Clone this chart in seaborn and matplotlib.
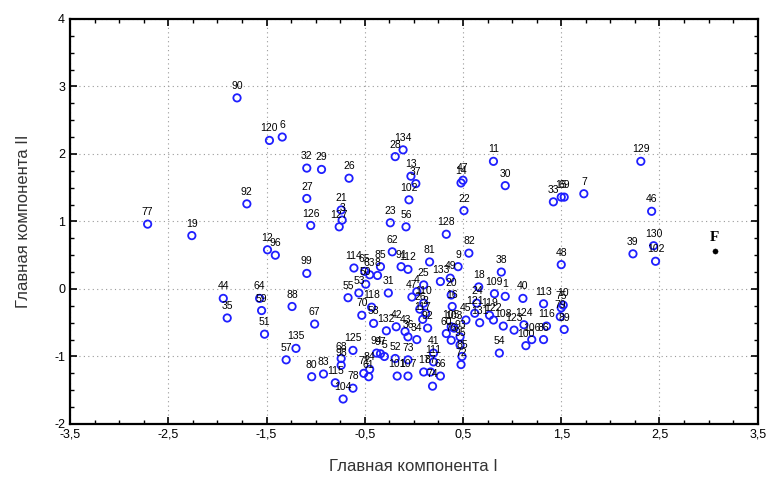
import matplotlib
matplotlib.use("Agg")
import matplotlib.pyplot as plt
from matplotlib.ticker import MultipleLocator, FixedLocator, FuncFormatter
import seaborn as sns
import pandas as pd

# Object numbers and their scores on the first two principal components
labels = [
    "90", "120", "6", "92", "77", "19", "12", "96", "44", "35",
    "64", "59", "51", "88", "57", "135", "32", "29", "26", "27",
    "126", "21", "3", "127", "28", "134", "13", "37", "102", "23",
    "56", "14", "47", "22", "128", "11", "30", "33", "15", "69",
    "7", "129", "46", "39", "130", "102", "48", "38", "18", "109",
    "1", "40", "113", "10", "75", "79", "89", "116", "86", "106",
    "100", "124", "123", "108", "54", "119", "122", "131", "121", "82",
    "62", "85", "91", "112", "8", "81", "9", "49", "133", "25",
    "4", "110", "20", "99", "114", "65", "63", "50", "53", "55",
    "70", "67", "68", "98", "125", "80", "83", "115", "104", "78",
    "71", "61", "84", "94", "58", "2", "117", "105", "103", "60",
    "76", "93", "95", "85", "72", "42", "43", "36", "34", "97",
    "5", "52", "73", "45", "16", "41", "111", "17", "87", "66",
    "101", "107", "74", "24", "31", "118", "132", "26", "47", "92",
]
pc1 = [
    -1.80, -1.47, -1.34, -1.70, -2.71, -2.26, -1.49, -1.41, -1.94, -1.90,
    -1.57, -1.55, -1.52, -1.24, -1.30, -1.20, -1.09, -0.94, -0.66, -1.09,
    -1.05, -0.74, -0.73, -0.76, -0.19, -0.11, -0.03, 0.02, -0.05, -0.24,
    -0.08, 0.48, 0.50, 0.51, 0.33, 0.81, 0.93, 1.42, 1.50, 1.53,
    1.73, 2.31, 2.42, 2.23, 2.44, 2.46, 1.50, 0.89, 0.66, 0.82,
    0.93, 1.11, 1.32, 1.52, 1.50, 1.49, 1.53, 1.35, 1.32, 1.20,
    1.14, 1.12, 1.02, 0.91, 0.87, 0.77, 0.81, 0.67, 0.62, 0.56,
    -0.22, -0.34, -0.13, -0.06, -0.37, 0.16, 0.45, 0.37, 0.27, 0.10,
    0.03, 0.10, 0.38, -1.09, -0.61, -0.50, -0.45, -0.49, -0.56, -0.67,
    -0.53, -1.01, -0.74, -0.74, -0.62, -1.04, -0.92, -0.80, -0.72, -0.62,
    -0.51, -0.46, -0.45, -0.38, -0.41, 0.12, 0.09, 0.38, 0.41, 0.33,
    0.38, 0.47, 0.47, 0.49, 0.48, -0.18, -0.09, -0.06, 0.03, -0.34,
    -0.30, -0.19, -0.06, 0.53, 0.39, 0.20, 0.20, 0.10, 0.17, 0.27,
    -0.17, -0.06, 0.19, 0.64, -0.26, -0.43, -0.28, 0.06, -0.02, 0.14,
]
pc2 = [
    2.83, 2.20, 2.25, 1.26, 0.96, 0.79, 0.58, 0.50, -0.14, -0.43,
    -0.14, -0.32, -0.67, -0.26, -1.05, -0.88, 1.79, 1.77, 1.64, 1.34,
    0.94, 1.17, 1.02, 0.92, 1.96, 2.06, 1.67, 1.56, 1.32, 0.98,
    0.92, 1.57, 1.61, 1.16, 0.81, 1.89, 1.53, 1.29, 1.36, 1.36,
    1.41, 1.89, 1.15, 0.52, 0.64, 0.41, 0.36, 0.25, 0.03, -0.07,
    -0.11, -0.14, -0.22, -0.24, -0.28, -0.41, -0.60, -0.55, -0.75, -0.75,
    -0.84, -0.53, -0.61, -0.55, -0.95, -0.39, -0.46, -0.50, -0.36, 0.53,
    0.55, 0.33, 0.33, 0.29, 0.20, 0.40, 0.33, 0.16, 0.11, 0.06,
    -0.04, -0.21, -0.09, 0.23, 0.31, 0.26, 0.21, 0.07, -0.06, -0.13,
    -0.39, -0.52, -1.03, -1.13, -0.91, -1.30, -1.26, -1.39, -1.63, -1.47,
    -1.25, -1.30, -1.19, -0.95, -0.51, -0.36, -0.45, -0.56, -0.58, -0.66,
    -0.76, -0.71, -0.83, -1.00, -1.12, -0.56, -0.63, -0.71, -0.75, -0.96,
    -1.00, -1.03, -1.05, -0.46, -0.26, -0.95, -1.08, -1.23, -1.23, -1.29,
    -1.29, -1.29, -1.44, -0.21, -0.06, -0.27, -0.62, -0.30, -0.12, -0.58,
]

# Reference object
ref_label = "F"
ref_pc1 = [3.06]
ref_pc2 = [0.56]

x_ticks = [-3.5, -2.5, -1.5, -0.5, 0.5, 1.5, 2.5, 3.5]
y_ticks = [-2, -1, 0, 1, 2, 3, 4]

df = pd.DataFrame({"label": labels, "pc1": pc1, "pc2": pc2})
ref = pd.DataFrame({"pc1": ref_pc1, "pc2": ref_pc2})

sns.set_style("white")
plt.rcParams["font.family"] = ["Liberation Sans", "DejaVu Sans"]

fig = plt.figure(figsize=(7.71, 4.84), dpi=100)
ax = fig.add_axes([0.0908, 0.124, 0.892, 0.837])

sns.scatterplot(data=df, x="pc1", y="pc2", ax=ax, marker="o", s=28,
                facecolor="none", edgecolor="#1f1fff", linewidth=1.3,
                legend=False, zorder=3)
sns.scatterplot(data=ref, x="pc1", y="pc2", ax=ax, marker="o", s=14,
                color="black", edgecolor="black", legend=False, zorder=3)

for lab, x, y in zip(df["label"], df["pc1"], df["pc2"]):
    ax.annotate(lab, (x, y), xytext=(0, 5), textcoords="offset points",
                ha="center", va="bottom", fontsize=7.5, color="black", zorder=4)
ax.annotate(ref_label, (ref_pc1[0], ref_pc2[0]), xytext=(0, 5),
            textcoords="offset points", ha="center", va="bottom",
            fontsize=11, fontweight="bold", family="Liberation Serif",
            color="black", zorder=4)

ax.set_xlim(x_ticks[0], x_ticks[-1])
ax.set_ylim(y_ticks[0], y_ticks[-1])
ax.xaxis.set_major_locator(FixedLocator(x_ticks))
ax.yaxis.set_major_locator(FixedLocator(y_ticks))
ax.xaxis.set_minor_locator(MultipleLocator(0.25))
ax.yaxis.set_minor_locator(MultipleLocator(0.25))
ax.xaxis.set_major_formatter(FuncFormatter(lambda v, p: f"{v:g}".replace(".", ",")))
ax.yaxis.set_major_formatter(FuncFormatter(lambda v, p: f"{v:g}"))

ax.grid(True, which="major", linestyle=(0, (1, 3)), color="#9a9a9a", linewidth=0.8)
ax.tick_params(which="both", direction="in", top=True, right=True,
               bottom=True, left=True, colors="black", labelsize=9)
ax.tick_params(which="major", length=5, width=1.2)
ax.tick_params(which="minor", length=3, width=1.0)
for sp in ax.spines.values():
    sp.set_color("black")
    sp.set_linewidth(1.6)

ax.set_xlabel("Главная компонента I", fontsize=12, color="#333333", labelpad=13)
ax.set_ylabel("Главная компонента II", fontsize=12, color="#333333", labelpad=17)

fig.savefig("out.png", dpi=100, facecolor="white")
